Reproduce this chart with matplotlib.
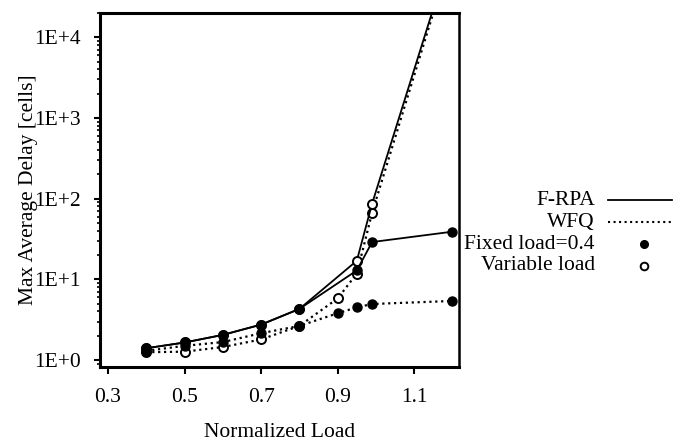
import matplotlib
matplotlib.use('Agg')
import matplotlib.pyplot as plt
from matplotlib.lines import Line2D
from matplotlib.ticker import FixedLocator, LogLocator, NullFormatter

plt.rcParams['font.family'] = ['Liberation Serif', 'DejaVu Serif']
plt.rcParams['font.size'] = 15.5

# Data
frpa_x = [0.4, 0.5, 0.6, 0.7, 0.8, 0.95, 0.99, 1.2]
frpa_fixed = [1.4, 1.65, 2.05, 2.75, 4.3, 12.9, 29, 39]
frpa_variable = [1.4, 1.65, 2.05, 2.75, 4.3, 17, 87, 1.3e5]

wfq_x = [0.4, 0.5, 0.6, 0.7, 0.8, 0.9, 0.95, 0.99, 1.2]
wfq_fixed = [1.3, 1.5, 1.67, 2.15, 2.65, 3.8, 4.5, 4.95, 5.4]
wfq_variable = [1.25, 1.27, 1.45, 1.8, 2.65, 5.8, 11.8, 67, 1.2e5]

x_ticks = [0.3, 0.5, 0.7, 0.9, 1.1]
y_ticks = [1, 10, 100, 1000, 10000]
y_tick_labels = ['1E+0', '1E+1', '1E+2', '1E+3', '1E+4']

legend_labels = ['F-RPA', 'WFQ', 'Fixed load=0.4', 'Variable load']

W, H = 682, 444
fig = plt.figure(figsize=(W / 100, H / 100), dpi=100)
ax = fig.add_axes([100 / W, 1 - 367 / H, 359 / W, 354 / H])

filled = dict(marker='o', markersize=6.5, markerfacecolor='black',
              markeredgecolor='black', markeredgewidth=1)
hollow = dict(marker='o', markersize=6.5, markerfacecolor='white',
              markeredgecolor='black', markeredgewidth=1.4)

# variable load curves underneath, fixed load on top
ax.plot(wfq_x, wfq_variable, color='black', linestyle=':', linewidth=1.6, **hollow)
ax.plot(frpa_x, frpa_variable, color='black', linestyle='-', linewidth=1.3, **hollow)
ax.plot(wfq_x, wfq_fixed, color='black', linestyle=':', linewidth=1.6, **filled)
ax.plot(frpa_x, frpa_fixed, color='black', linestyle='-', linewidth=1.3, **filled)

ax.set_yscale('log')
ax.set_xlim(0.279, 1.217)
ax.set_ylim(0.82, 2.0e4)

ax.xaxis.set_major_locator(FixedLocator(x_ticks))
ax.set_xticklabels([f'{v:.1f}' for v in x_ticks])
ax.yaxis.set_major_locator(FixedLocator(y_ticks))
ax.set_yticklabels(y_tick_labels)
ax.yaxis.set_minor_locator(LogLocator(base=10, subs=range(2, 10)))
ax.yaxis.set_minor_formatter(NullFormatter())

ax.tick_params(axis='x', which='major', direction='out', length=5, width=1.5, pad=10)
ax.tick_params(axis='y', which='major', direction='out', length=4, width=1.5, pad=10)
ax.tick_params(axis='y', which='minor', direction='out', length=2, width=1.2)
ax.tick_params(top=False, right=False)

for side in ['left', 'bottom', 'top']:
    ax.spines[side].set_linewidth(2.2)
ax.spines['right'].set_linewidth(1.8)

ax.set_xlabel('Normalized Load')
ax.xaxis.set_label_coords(0.5, -0.158)
ax.set_ylabel('Max Average Delay [cells]')
ax.yaxis.set_label_coords(-0.174, 0.5)

# legend on the right, text right-aligned with handles after it
rows = [200, 222, 244, 266]
handles = [
    dict(xs=[608, 672], style=dict(color='black', linestyle='-', linewidth=1.3)),
    dict(xs=[608, 672], style=dict(color='black', linestyle=':', linewidth=1.5)),
    dict(xs=[644], style=dict(linestyle='none', marker='o', markersize=5.5,
                              markerfacecolor='black', markeredgecolor='black')),
    dict(xs=[644], style=dict(linestyle='none', marker='o', markersize=5.5,
                              markerfacecolor='white', markeredgecolor='black',
                              markeredgewidth=1.4)),
]
for label, y, h in zip(legend_labels, rows, handles):
    fig.text(595 / W, 1 - y / H, label, ha='right', va='center')
    fy = 1 - y / H
    fig.add_artist(Line2D([x / W for x in h['xs']], [fy] * len(h['xs']),
                          transform=fig.transFigure, **h['style']))

fig.savefig('out.png', dpi=100)
